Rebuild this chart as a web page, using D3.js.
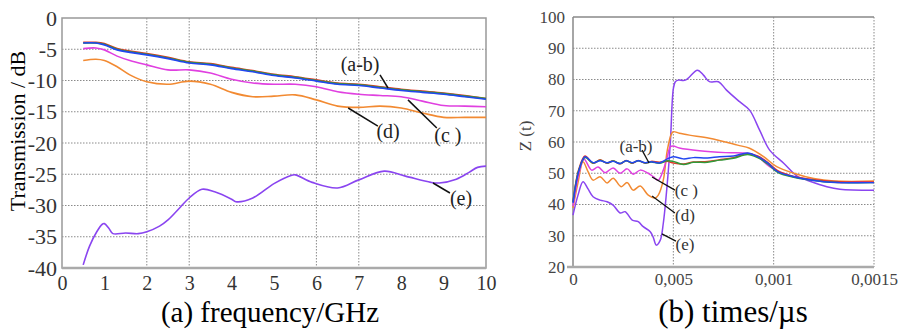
<!DOCTYPE html>
<html>
<head>
<meta charset="utf-8">
<script src="https://cdn.jsdelivr.net/npm/d3@7"></script>
<style>
  body { margin: 0; background: #fff; }
  svg { display: block; }
</style>
</head>
<body>
<div id="chart"></div>
<script>
// ---- (a) transmission data ----
var freq = [0.5, 0.8, 1.0, 1.3, 1.6, 2.0, 2.5, 3.0, 3.5, 4.0, 4.5, 5.0, 5.5, 6.0, 6.5, 7.0, 7.5, 8.0, 8.5, 9.0, 9.5, 10];
var transA = [-3.9, -3.9, -4.1, -4.9, -5.3, -5.7, -6.3, -7.0, -7.3, -7.9, -8.4, -9.0, -9.4, -9.9, -10.4, -10.6, -11.0, -11.4, -11.7, -12.0, -12.4, -12.9];
var transB = [-4.0, -4.0, -4.2, -5.0, -5.4, -5.8, -6.4, -7.1, -7.4, -8.0, -8.5, -9.1, -9.5, -10.0, -10.5, -10.7, -11.1, -11.5, -11.8, -12.1, -12.5, -12.9];
var transAB = [-4.0, -4.0, -4.3, -5.1, -5.5, -5.9, -6.5, -7.2, -7.5, -8.1, -8.6, -9.2, -9.6, -10.1, -10.6, -10.8, -11.2, -11.6, -11.9, -12.2, -12.6, -13.0];
var transC = [-4.9, -4.8, -5.1, -6.1, -6.8, -7.5, -8.3, -8.3, -8.8, -9.8, -10.4, -10.6, -10.6, -11.0, -11.8, -12.2, -12.4, -12.6, -13.3, -14.0, -14.1, -14.2];
var transD = [-6.8, -6.6, -6.8, -7.8, -9.1, -10.2, -10.6, -10.1, -10.6, -11.9, -12.6, -12.5, -12.3, -13.1, -14.1, -14.3, -14.1, -14.4, -15.2, -15.9, -15.9, -15.9];
var freqE = [0.5, 0.65, 0.82, 0.95, 1.0, 1.1, 1.2, 1.5, 1.8, 2.0, 2.3, 2.5, 2.8, 3.0, 3.3, 3.6, 4.0, 4.1, 4.5, 5.0, 5.4, 5.5, 5.9, 6.5, 7.0, 7.6, 8.1, 8.7, 8.9, 9.3, 9.6, 9.8, 10];
var transE = [-39.5, -36.5, -34.2, -33.0, -32.9, -33.6, -34.5, -34.4, -34.5, -34.2, -33.3, -32.3, -30.2, -28.8, -27.4, -27.8, -29.0, -29.4, -28.8, -26.5, -25.2, -25.1, -26.3, -27.2, -25.9, -24.5, -25.3, -26.3, -26.4, -25.8, -24.7, -23.9, -23.7];

var freqTicks = [0, 1, 2, 3, 4, 5, 6, 7, 8, 9, 10];
var freqGrid = [2, 3, 6, 7];
var dbTicks = [0, -5, -10, -15, -20, -25, -30, -35, -40];

// ---- (b) impedance data (time in units of 1e-4 of the axis) ----
var timeAB = [0, 0.3, 0.6, 1.0, 1.35, 1.7, 2.0, 2.35, 2.65, 2.95, 3.25, 3.6, 3.9, 4.3, 4.7, 5.0, 5.5, 6.0, 6.7, 7.3, 8.0, 8.7, 9.2, 9.7, 10.2, 11.0, 12.5, 13.3, 15];
var zA = [41, 51.5, 55.5, 53.2, 54.3, 53.2, 54.0, 53.0, 54.1, 53.2, 54.1, 53.2, 53.8, 53.5, 53.8, 53.3, 53.0, 53.6, 53.8, 54.3, 55.0, 56.3, 55.5, 53.5, 50.8, 49.0, 47.6, 47.3, 47.2];
var zB = [40.8, 51.2, 55.0, 53.3, 54.2, 53.3, 53.9, 53.1, 54.0, 53.3, 54.0, 53.3, 53.6, 53.2, 54.0, 53.8, 52.8, 53.5, 53.5, 54.2, 54.8, 56.0, 55.0, 53.0, 50.3, 48.7, 47.3, 47.0, 47.0];
var zAB = [40.5, 51, 55.3, 53.4, 54.0, 53.4, 53.8, 53.1, 54.0, 53.4, 54.0, 53.4, 53.7, 53.3, 54.6, 55.3, 54.6, 55.0, 54.9, 55.3, 55.5, 56.5, 55.3, 53.3, 50.5, 48.9, 47.3, 47.0, 47.0];
var timeC = [0, 0.3, 0.55, 0.93, 1.25, 1.6, 2.0, 2.35, 2.7, 3.0, 3.35, 3.75, 4.0, 4.25, 4.5, 4.7, 4.85, 5.0, 5.3, 6.3, 7.6, 8.65, 9.2, 9.8, 10.65, 11.5, 12.5, 13.3, 14.3, 15];
var zC = [39.5, 50, 54.5, 51.0, 52.0, 50.2, 51.7, 50.0, 51.4, 49.7, 51.0, 50.0, 48.9, 47.8, 51.0, 55.3, 58.5, 58.7, 58.1, 57.2, 56.6, 56.4, 55.3, 52.1, 49.4, 48.3, 47.5, 47.0, 47.3, 47.0];
var timeD = [0, 0.25, 0.5, 0.75, 1.0, 1.35, 1.7, 2.0, 2.4, 2.7, 3.0, 3.35, 3.75, 4.1, 4.25, 4.5, 4.7, 4.9, 5.0, 5.3, 5.8, 6.8, 8.2, 8.8, 9.5, 10.15, 11.0, 12.0, 13.0, 15];
var zD = [38.9, 47, 53.7, 50.5, 47.8, 48.9, 46.9, 48.4, 45.7, 47.0, 44.6, 45.9, 43.0, 42.1, 43.0, 47.8, 57.4, 62.5, 63.3, 62.8, 62.2, 61.2, 59.0, 58.0, 55.3, 52.1, 50.0, 48.3, 47.5, 47.5];
var timeE = [0, 0.25, 0.5, 0.75, 1.0, 1.35, 1.7, 2.0, 2.35, 2.6, 2.95, 3.25, 3.5, 3.85, 4.0, 4.15, 4.35, 4.5, 4.7, 4.85, 5.0, 5.1, 5.25, 5.6, 6.2, 6.5, 6.8, 7.25, 7.65, 8.3, 8.8, 9.3, 9.8, 10.5, 11.2, 11.65, 12.65, 13.3, 15];
var zE = [36.6, 43, 47.3, 45.0, 42.5, 41.4, 40.9, 39.8, 37.3, 37.7, 35.0, 34.5, 32.9, 31.3, 29.5, 27.0, 28.6, 34.0, 46.9, 59.7, 77.0, 79.3, 79.8, 79.8, 83.0, 81.4, 79.3, 79.3, 76.6, 72.9, 70.2, 63.8, 57.4, 53.2, 48.9, 47.8, 45.7, 44.9, 44.6];

var timeTicks = [0, 5, 10, 15];
var timeLabels = ["0", "0,005", "0,001", "0,0015"];
var zTicks = [20, 30, 40, 50, 60, 70, 80, 90, 100];

var colors = { a: "#e23a2a", b: "#2f9a3a", ab: "#2346f0", c: "#e040e0", d: "#f28a32", e: "#8a45f0" };

// label text, anchor point of the text and leader line ends, all in data units
var labelsA = [
    { t: "(a-b)", x: 7.03, y: -8.5, x1: 7.5, y1: -9.1, x2: 7.69, y2: -11.2 },
    { t: "(c )", x: 9.1, y: -19.8, x1: 8.84, y1: -17.6, x2: 8.16, y2: -13.1 },
    { t: "(d)", x: 7.69, y: -19.2, x1: 7.45, y1: -17.3, x2: 6.75, y2: -14.4 },
    { t: "(e)", x: 9.41, y: -29.9, x1: 9.15, y1: -28, x2: 8.75, y2: -26.4 }
];
var labelsB = [
    { t: "(a-b)", x: 3.14, y: 56.8, x1: 3.44, y1: 57.4, x2: 3.79, y2: 53.3 },
    { t: "(c )", x: 5.65, y: 42.7, x1: 5.08, y1: 44.6, x2: 3.94, y2: 48.8 },
    { t: "(d)", x: 5.58, y: 34.7, x1: 5.08, y1: 37.3, x2: 3.94, y2: 42.7 },
    { t: "(e)", x: 5.58, y: 25.4, x1: 5.13, y1: 28.3, x2: 4.43, y2: 30.6 }
];

var serif = '"Liberation Serif", "Times New Roman", Times, "DejaVu Serif", serif';

var svg = d3.select("#chart").append("svg")
    .attr("width", 902)
    .attr("height", 331)
    .attr("font-family", serif);

// ================= chart (a) =================
var wA = 424, hA = 250;
var gA = svg.append("g").attr("transform", "translate(62,18)");
var xA = d3.scaleLinear().domain([0, 10]).range([0, wA]);
var yA = d3.scaleLinear().domain([-40, 0]).range([hA, 0]);

// dotted grid
gA.selectAll(".hgrid").data(dbTicks.slice(1, -1)).enter().append("line")
    .attr("x1", 0).attr("x2", wA)
    .attr("y1", d => yA(d)).attr("y2", d => yA(d))
    .attr("stroke", "#8a8a8a").attr("stroke-dasharray", "1.5,1.5");
gA.selectAll(".vgrid").data(freqGrid).enter().append("line")
    .attr("y1", 0).attr("y2", hA)
    .attr("x1", d => xA(d)).attr("x2", d => xA(d))
    .attr("stroke", "#8a8a8a").attr("stroke-dasharray", "1.5,1.5");

// frame
gA.append("rect").attr("width", wA).attr("height", hA)
    .attr("fill", "none").attr("stroke", "#999").attr("stroke-width", 1.5);
gA.append("line").attr("x1", 0).attr("x2", wA).attr("y1", hA).attr("y2", hA)
    .attr("stroke", "#aaa").attr("stroke-width", 2.5);

var axA = gA.append("g").call(d3.axisLeft(yA).tickValues(dbTicks).tickSize(0).tickPadding(5)
    .tickFormat(d => d === 0 ? "0" : "-" + Math.abs(d)));
axA.select(".domain").remove();
axA.selectAll("text").style("font-size", "22px").attr("fill", "#333");

var axAx = gA.append("g").attr("transform", "translate(0," + hA + ")")
    .call(d3.axisBottom(xA).tickValues(freqTicks).tickSize(0).tickPadding(8).tickFormat(d3.format("d")));
axAx.select(".domain").remove();
axAx.selectAll("text").style("font-size", "20px").attr("fill", "#333");

var lineA = d3.line().x(d => xA(d[0])).y(d => yA(d[1])).curve(d3.curveCatmullRom.alpha(0.5));
var seriesA = [
    [freqE, transE, colors.e],
    [freq, transD, colors.d],
    [freq, transC, colors.c],
    [freq, transA, colors.a],
    [freq, transB, colors.b],
    [freq, transAB, colors.ab]
];
seriesA.forEach(function (s) {
    gA.append("path")
        .datum(d3.zip(s[0], s[1]))
        .attr("fill", "none")
        .attr("stroke", s[2])
        .attr("stroke-width", 1.6)
        .attr("d", lineA);
});

labelsA.forEach(function (l) {
    gA.append("line")
        .attr("x1", xA(l.x1)).attr("y1", yA(l.y1))
        .attr("x2", xA(l.x2)).attr("y2", yA(l.y2))
        .attr("stroke", "#111").attr("stroke-width", 1.5);
    gA.append("text")
        .attr("x", xA(l.x)).attr("y", yA(l.y))
        .attr("text-anchor", "middle")
        .style("font-size", "20px").attr("fill", "#222")
        .text(l.t);
});

gA.append("text")
    .attr("transform", "translate(-37,113) rotate(-90)")
    .attr("text-anchor", "middle")
    .style("font-size", "22px")
    .text("Transmission / dB");

gA.append("text")
    .attr("x", 208).attr("y", 304)
    .attr("text-anchor", "middle")
    .style("font-size", "29px")
    .text("(a) frequency/GHz");

// ================= chart (b) =================
var wB = 301, hB = 250;
var gB = svg.append("g").attr("transform", "translate(573,17)");
var xB = d3.scaleLinear().domain([0, 15]).range([0, wB]);
var yB = d3.scaleLinear().domain([20, 100]).range([hB, 0]);

gB.selectAll(".hgrid").data(zTicks.slice(1, -1)).enter().append("line")
    .attr("x1", 0).attr("x2", wB)
    .attr("y1", d => yB(d)).attr("y2", d => yB(d))
    .attr("stroke", "#8a8a8a").attr("stroke-dasharray", "1.5,1.5");
gB.selectAll(".vgrid").data(timeTicks.slice(1)).enter().append("line")
    .attr("y1", 0).attr("y2", hB)
    .attr("x1", d => xB(d)).attr("x2", d => xB(d))
    .attr("stroke", "#8a8a8a").attr("stroke-dasharray", "1.5,1.5");

// frame: left, top, bottom solid
gB.append("line").attr("x1", 0).attr("x2", 0).attr("y1", 0).attr("y2", hB)
    .attr("stroke", "#888").attr("stroke-width", 1.5);
gB.append("line").attr("x1", 0).attr("x2", wB).attr("y1", 0).attr("y2", 0)
    .attr("stroke", "#888").attr("stroke-width", 1.5);
gB.append("line").attr("x1", -6).attr("x2", wB).attr("y1", hB).attr("y2", hB)
    .attr("stroke", "#aaa").attr("stroke-width", 2.5);

var axB = gB.append("g").call(d3.axisLeft(yB).tickValues(zTicks).tickSize(0).tickPadding(8));
axB.select(".domain").remove();
axB.selectAll("text").style("font-size", "17px").attr("fill", "#444");

var axBx = gB.append("g").attr("transform", "translate(0," + hB + ")")
    .call(d3.axisBottom(xB).tickValues(timeTicks).tickSize(0).tickPadding(6)
        .tickFormat((d, i) => timeLabels[i]));
axBx.select(".domain").remove();
axBx.selectAll("text").style("font-size", "17px").attr("fill", "#444");

var lineB = d3.line().x(d => xB(d[0])).y(d => yB(d[1])).curve(d3.curveCatmullRom.alpha(0.5));
var seriesB = [
    [timeE, zE, colors.e],
    [timeD, zD, colors.d],
    [timeC, zC, colors.c],
    [timeAB, zA, colors.a],
    [timeAB, zB, colors.b],
    [timeAB, zAB, colors.ab]
];
seriesB.forEach(function (s) {
    gB.append("path")
        .datum(d3.zip(s[0], s[1]))
        .attr("fill", "none")
        .attr("stroke", s[2])
        .attr("stroke-width", 1.5)
        .attr("d", lineB);
});

labelsB.forEach(function (l) {
    gB.append("line")
        .attr("x1", xB(l.x1)).attr("y1", yB(l.y1))
        .attr("x2", xB(l.x2)).attr("y2", yB(l.y2))
        .attr("stroke", "#111").attr("stroke-width", 1.3);
    gB.append("text")
        .attr("x", xB(l.x)).attr("y", yB(l.y))
        .attr("text-anchor", "middle")
        .style("font-size", "17px").attr("fill", "#333")
        .text(l.t);
});

gB.append("text")
    .attr("transform", "translate(-42,119) rotate(-90)")
    .attr("text-anchor", "middle")
    .style("font-size", "17px").attr("fill", "#444")
    .text("Z (t)");

gB.append("text")
    .attr("x", 160).attr("y", 305)
    .attr("text-anchor", "middle")
    .style("font-size", "31px")
    .text("(b) times/µs");

// every label in the serif face, also the ones d3.axis created
svg.selectAll("text").style("font-family", serif);
</script>
</body>
</html>
